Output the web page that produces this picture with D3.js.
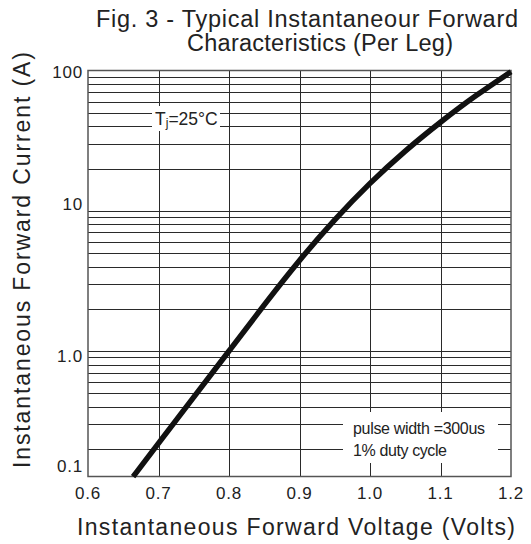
<!DOCTYPE html>
<html><head><meta charset="utf-8">
<script src="https://cdn.jsdelivr.net/npm/d3@7"></script>
<style>body{margin:0;background:#fff}svg{display:block;font-family:"Liberation Sans",Arial,sans-serif}</style>
</head><body><svg id="c" width="531" height="544"></svg>
<script>
// Data
const voltage = [0.664, 0.70, 0.75, 0.80, 0.85, 0.90, 0.95, 1.00, 1.05, 1.10, 1.15, 1.20];
const current = [0.127, 0.22, 0.468, 1.0, 2.14, 4.47, 8.71, 15.85, 26.9, 43.0, 66.5, 98];
const xTicks = [0.6, 0.7, 0.8, 0.9, 1.0, 1.1, 1.2];
const xTickLabels = ["0.6", "0.7", "0.8", "0.9", "1.0", "1.1", "1.2"];
const yTicks = [100, 10, 1, 0.1];
const yTickLabels = ["100", "10", "1.0", "0.1"];
const yMin = 0.1274, yMax = 100;

const svg = d3.select("#c");
const L = 88, R = 511, T = 70.5, B = 476.5;
const x = d3.scaleLinear().domain([0.6, 1.2]).range([L, R]);
const y = d3.scaleLog().domain([yMin, yMax]).range([B, T]);

// minor grid values
const minor = [];
for (let e = -1; e <= 1; e++) for (let m = 2; m <= 9; m++) { const v = m * Math.pow(10, e); if (v > yMin && v < yMax) minor.push(v); }
const grid = svg.append("g").attr("stroke", "#2a2a2a").attr("stroke-width", 1);
grid.selectAll(".h").data(minor.concat([1, 10])).join("line")
  .attr("x1", L).attr("x2", R).attr("y1", d => Math.round(y(d)) + 0.5).attr("y2", d => Math.round(y(d)) + 0.5);
grid.selectAll(".v").data(xTicks.slice(1, -1)).join("line")
  .attr("x1", d => Math.round(x(d)) + 0.5).attr("x2", d => Math.round(x(d)) + 0.5).attr("y1", T).attr("y2", B);

// frame
svg.append("rect").attr("x", L).attr("y", T).attr("width", R - L).attr("height", B - T)
  .attr("fill", "none").attr("stroke", "#555").attr("stroke-width", 1.5);

// annotation boxes (white backgrounds)
svg.append("rect").attr("x", 152).attr("y", 106).attr("width", 68).attr("height", 25).attr("fill", "#fff");
svg.append("rect").attr("x", 343).attr("y", 412).attr("width", 155).attr("height", 51).attr("fill", "#fff");

// curve
const line = d3.line().x(d => x(d[0])).y(d => y(d[1])).curve(d3.curveBasis);
svg.append("path").datum(voltage.map((v, i) => [v, current[i]]))
  .attr("d", line).attr("fill", "none").attr("stroke", "#111").attr("stroke-width", 5.5);

// tick labels
svg.append("g").selectAll("text").data(xTicks).join("text")
  .attr("x", d => x(d)).attr("y", 499).attr("text-anchor", "middle")
  .attr("font-size", 17).attr("fill", "#222").attr("letter-spacing", 0.8)
  .text((d, i) => xTickLabels[i]);
const yNudge = [1.5, -7, 5, -11];
svg.append("g").selectAll("text").data(yTicks).join("text")
  .attr("x", 83).attr("y", (d, i) => y(Math.max(d, yMin)) + yNudge[i] + 6).attr("text-anchor", "end")
  .attr("font-size", 17).attr("fill", "#222").attr("letter-spacing", 0.8)
  .text((d, i) => yTickLabels[i]);

// titles
svg.append("text").attr("x", 96).attr("y", 27).attr("font-size", 23.5).attr("fill", "#222")
  .attr("textLength", 422).attr("lengthAdjust", "spacing").text("Fig. 3 - Typical Instantaneour Forward");
svg.append("text").attr("x", 187).attr("y", 51).attr("font-size", 23.5).attr("fill", "#222")
  .attr("textLength", 266).attr("lengthAdjust", "spacing").text("Characteristics (Per Leg)");
svg.append("text").attr("x", 77).attr("y", 535).attr("font-size", 23).attr("fill", "#222")
  .attr("textLength", 438).attr("lengthAdjust", "spacing").text("Instantaneous Forward Voltage (Volts)");
svg.append("text").attr("transform", "translate(30,468) rotate(-90)").attr("font-size", 23).attr("fill", "#222")
  .attr("textLength", 416).attr("lengthAdjust", "spacing").text("Instantaneous Forward Current (A)");

// annotations
const tj = svg.append("text").attr("x", 155).attr("y", 125).attr("font-size", 17.5).attr("fill", "#222");
tj.append("tspan").text("T");
tj.append("tspan").attr("font-size", 12).attr("dy", 2).text("j");
tj.append("tspan").attr("dy", -2).text("=25°C");
svg.append("text").attr("x", 353).attr("y", 434).attr("font-size", 16).attr("fill", "#222")
  .attr("textLength", 132).attr("lengthAdjust", "spacing").text("pulse width =300us");
svg.append("text").attr("x", 353).attr("y", 456).attr("font-size", 16).attr("fill", "#222")
  .attr("textLength", 94).attr("lengthAdjust", "spacing").text("1% duty cycle");
</script></body></html>
